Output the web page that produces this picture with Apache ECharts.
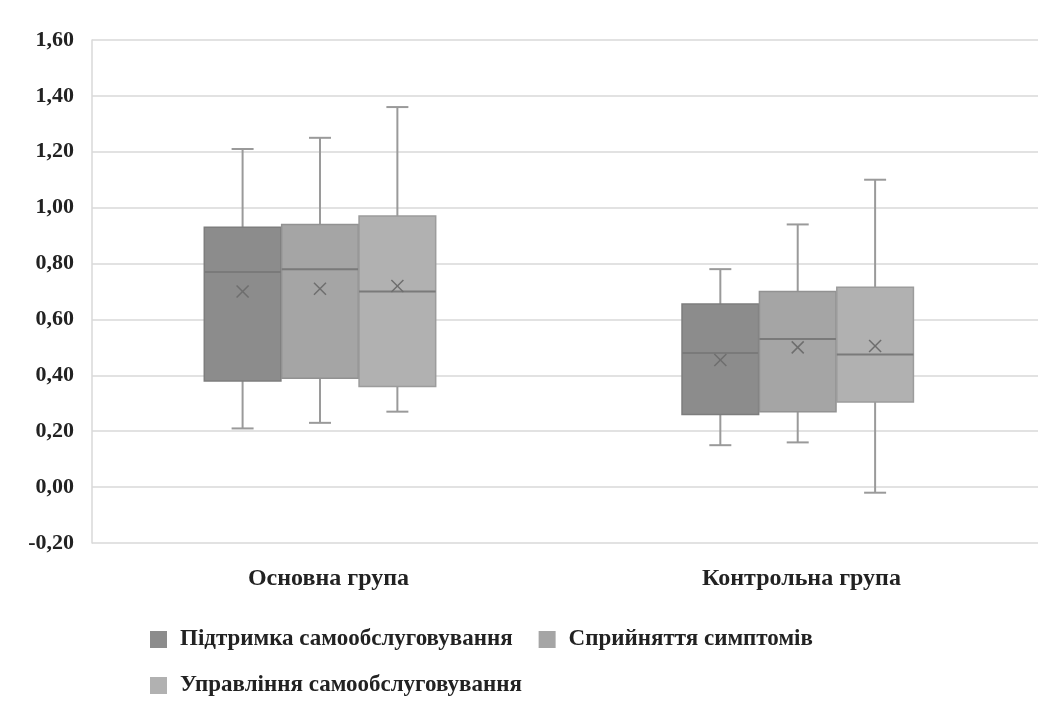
<!DOCTYPE html>
<html>
<head>
<meta charset="utf-8">
<script src="https://cdn.jsdelivr.net/npm/echarts@6/dist/echarts.min.js"></script>
<style>html,body{margin:0;padding:0;background:#fff}#c{width:1051px;height:719px}</style>
</head>
<body>
<div id="c"></div>
<script>
const categories = ['Основна група', 'Контрольна група'];
const seriesNames = ['Підтримка самообслуговування', 'Сприйняття симптомів', 'Управління самообслуговування'];
// each row: [min, Q1, median, Q3, max, mean] per category
const support = [[0.21, 0.38, 0.77, 0.93, 1.21, 0.70], [0.15, 0.26, 0.48, 0.655, 0.78, 0.455]];
const symptoms = [[0.23, 0.39, 0.78, 0.94, 1.25, 0.71], [0.16, 0.27, 0.53, 0.70, 0.94, 0.50]];
const management = [[0.27, 0.36, 0.70, 0.97, 1.36, 0.72], [-0.02, 0.305, 0.475, 0.715, 1.10, 0.505]];
const yTicks = { min: -0.2, max: 1.6, interval: 0.2 };
const seriesData = [support, symptoms, management];
const colors = ['#8c8c8c', '#a5a5a5', '#b1b1b1'];
const borders = ['#7d7d7d', '#929292', '#9c9c9c'];

const font = '"Liberation Serif", "DejaVu Serif", serif';

function makeRender(idx) {
  return function (params, api) {
    const cat = api.value(0);
    const bw = api.size([1, 0])[0];
    const boxW = bw * 0.162;
    const cx = api.coord([cat, 0])[0] + (idx - 1) * boxW * 1.01 - bw * (cat === 0 ? 0.018 : 0.008);
    const y = k => api.coord([cat, api.value(k)])[1];
    const yMin = y(1), yQ1 = y(2), yMed = y(3), yQ3 = y(4), yMax = y(5), yMean = y(6);
    const cap = 22, xs = 6;
    const wStyle = { stroke: '#9a9a9a', lineWidth: 2 };
    return {
      type: 'group',
      children: [
        { type: 'line', shape: { x1: cx, y1: yMax, x2: cx, y2: yQ3 }, style: wStyle },
        { type: 'line', shape: { x1: cx, y1: yQ1, x2: cx, y2: yMin }, style: wStyle },
        { type: 'line', shape: { x1: cx - cap / 2, y1: yMax, x2: cx + cap / 2, y2: yMax }, style: wStyle },
        { type: 'line', shape: { x1: cx - cap / 2, y1: yMin, x2: cx + cap / 2, y2: yMin }, style: wStyle },
        { type: 'rect', shape: { x: cx - boxW / 2, y: yQ3, width: boxW, height: yQ1 - yQ3 },
          style: { fill: colors[idx], stroke: borders[idx], lineWidth: 1.5 } },
        { type: 'line', shape: { x1: cx - boxW / 2, y1: yMed, x2: cx + boxW / 2, y2: yMed },
          style: { stroke: '#7a7a7a', lineWidth: 2 } },
        { type: 'line', shape: { x1: cx - xs, y1: yMean - xs, x2: cx + xs, y2: yMean + xs },
          style: { stroke: '#6e6e6e', lineWidth: 1.5 } },
        { type: 'line', shape: { x1: cx - xs, y1: yMean + xs, x2: cx + xs, y2: yMean - xs },
          style: { stroke: '#6e6e6e', lineWidth: 1.5 } }
      ]
    };
  };
}

const series = seriesNames.map((name, i) => ({
  name: name,
  type: 'custom',
  renderItem: makeRender(i),
  itemStyle: { color: colors[i] },
  encode: { x: 0, y: [1, 2, 3, 4, 5, 6] },
  data: seriesData[i].map((r, c) => [c].concat(r))
}));

const legendText = { fontFamily: font, fontWeight: 'bold', fontSize: 23, color: '#222', padding: [3, 0, 0, 8] };

const option = {
  animation: false,
  backgroundColor: '#fff',
  grid: { left: 92, right: 13, top: 40, bottom: 176 },
  xAxis: {
    type: 'category',
    data: categories,
    axisLine: { show: false },
    axisTick: { show: false },
    axisLabel: { fontFamily: font, fontWeight: 'bold', fontSize: 24, color: '#222', margin: 24 }
  },
  yAxis: {
    type: 'value',
    min: yTicks.min, max: yTicks.max, interval: yTicks.interval,
    axisLine: { show: true, lineStyle: { color: '#d9d9d9', width: 1.5 } },
    axisTick: { show: false },
    splitLine: { lineStyle: { color: '#d9d9d9', width: 1.5 } },
    axisLabel: {
      fontFamily: font, fontWeight: 'bold', fontSize: 22, color: '#222', margin: 18,
      formatter: v => (Math.abs(v) < 1e-9 ? 0 : v).toFixed(2).replace('.', ',')
    }
  },
  legend: [
    { data: [seriesNames[0], seriesNames[1]], left: 145, top: 623, icon: 'rect',
      itemWidth: 17, itemHeight: 17, itemGap: 26, textStyle: legendText, selectedMode: false },
    { data: [seriesNames[2]], left: 145, top: 669, icon: 'rect',
      itemWidth: 17, itemHeight: 17, textStyle: legendText, selectedMode: false }
  ],
  series: series
};

echarts.init(document.getElementById('c')).setOption(option);
</script>
</body>
</html>
